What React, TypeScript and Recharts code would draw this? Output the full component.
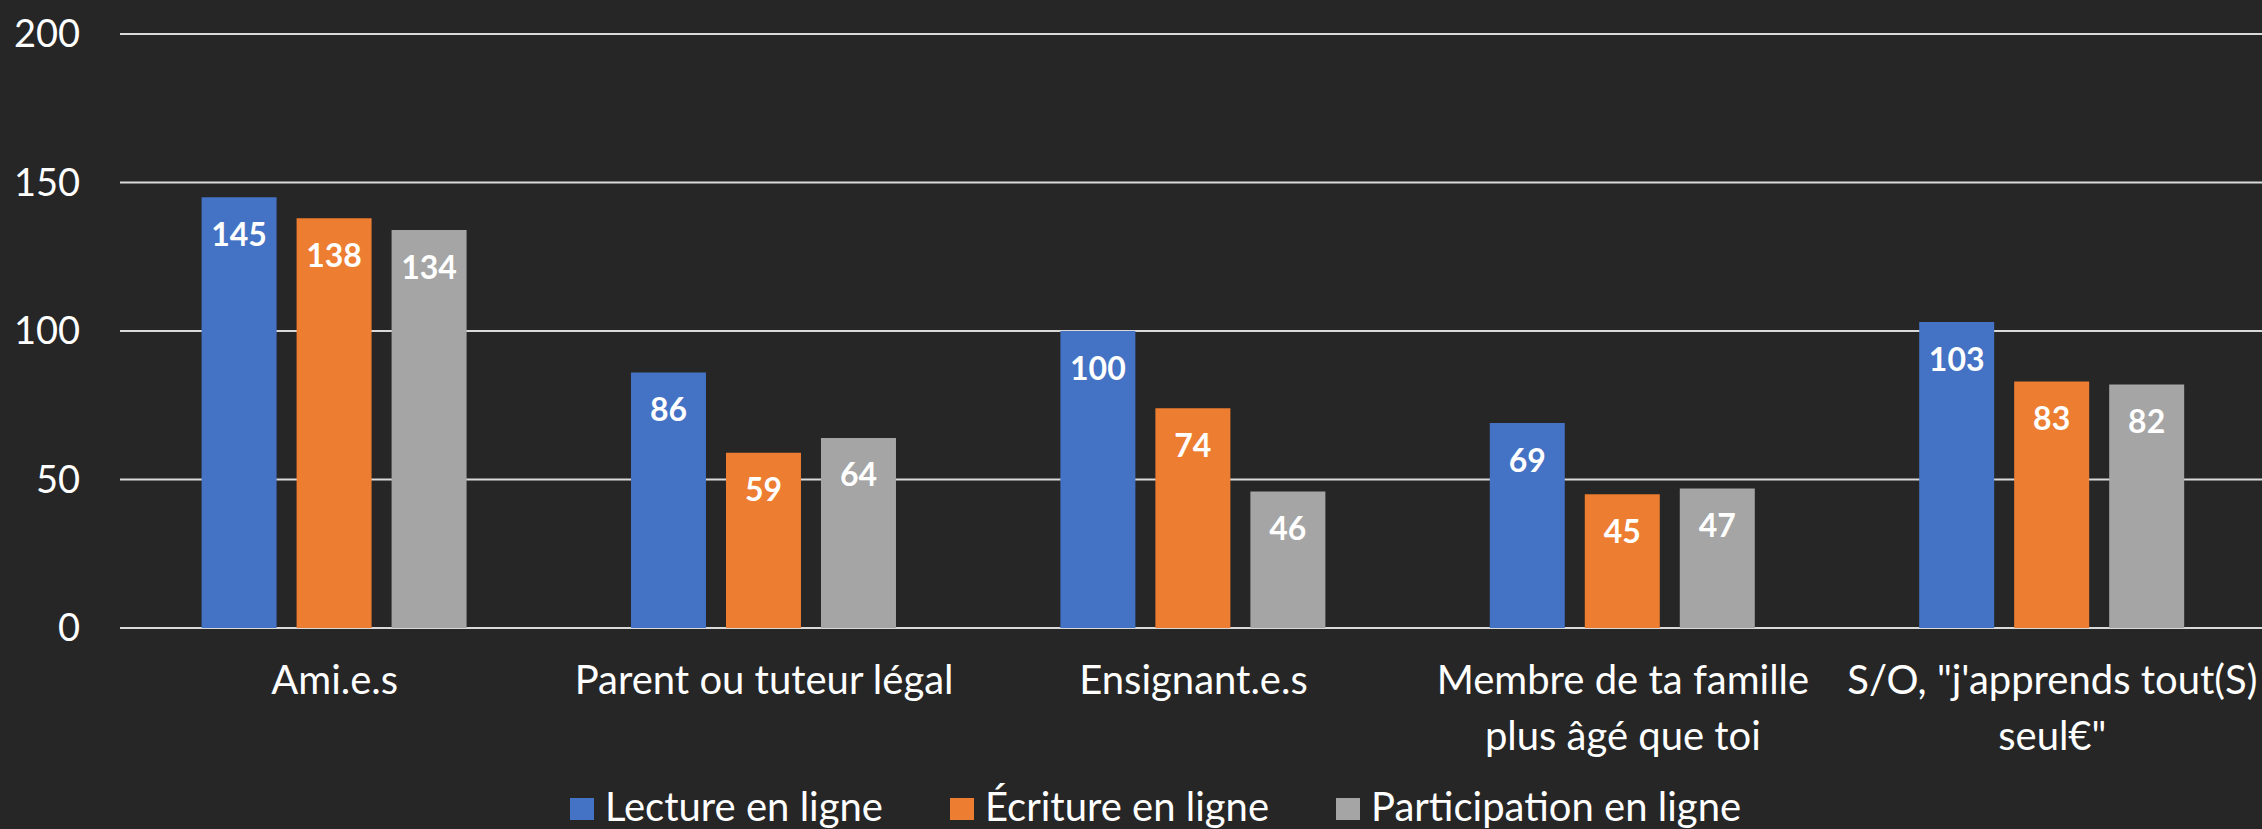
import React from 'react';
import { BarChart, Bar, XAxis, YAxis, CartesianGrid, Legend, LabelList } from 'recharts';

const categories = [
  'Ami.e.s',
  'Parent ou tuteur légal',
  'Ensignant.e.s',
  'Membre de ta famille\nplus âgé que toi',
  'S/O, "j\'apprends tout(S)\nseul€"',
];
const lecture = [145, 86, 100, 69, 103];
const ecriture = [138, 59, 74, 45, 83];
const participation = [134, 64, 46, 47, 82];
const seriesNames = ['Lecture en ligne', 'Écriture en ligne', 'Participation en ligne'];
const seriesKeys = ['lecture', 'ecriture', 'participation'];
const seriesColors = ['#4472C4', '#ED7D31', '#A5A5A5'];
const yTicks = [0, 50, 100, 150, 200];

const data = categories.map((c, i) => ({
  name: c,
  lecture: lecture[i],
  ecriture: ecriture[i],
  participation: participation[i],
}));

const FONT = 'Lato, "Noto Sans", sans-serif';

const XTick = (props: any) => {
  const { x, y, payload } = props;
  const lines = String(payload.value).split('\n');
  return (
    <text x={x} y={y} textAnchor="middle" fill="#FFFFFF" fontSize={40} fontFamily={FONT}>
      {lines.map((l: string, i: number) => (
        <tspan key={i} x={x} y={y + 66 + i * 56}>
          {l}
        </tspan>
      ))}
    </text>
  );
};

const renderBarLabel = (props: any) => {
  const { x, y, width, value } = props;
  return (
    <text
      x={Number(x) + Number(width) / 2}
      y={Number(y) + 36}
      textAnchor="middle"
      dominantBaseline="central"
      fill="#FFFFFF"
      fontSize={32}
      fontWeight="bold"
      fontFamily={FONT}
    >
      {value}
    </text>
  );
};

const renderLegend = (props: any) => {
  const payload = [...(props.payload || [])].sort(
    (a: any, b: any) => seriesNames.indexOf(a.value) - seriesNames.indexOf(b.value)
  );
  return (
    <div
      style={{
        display: 'flex',
        justifyContent: 'center',
        paddingLeft: 44,
        height: 44,
        fontFamily: FONT,
      }}
    >
      {payload.map((p: any, i: number) => (
        <div
          key={i}
          style={{
            display: 'flex',
            alignItems: 'flex-end',
            marginRight: i < payload.length - 1 ? 67 : 0,
            height: 44,
          }}
        >
          <span
            style={{
              display: 'inline-block',
              width: 24,
              height: 22,
              background: p.color,
              marginRight: 11,
              marginBottom: 9,
            }}
          />
          <span
            style={{
              fontSize: 40,
              lineHeight: '40px',
              color: '#FFFFFF',
              whiteSpace: 'nowrap',
              marginBottom: 3,
            }}
          >
            {p.value}
          </span>
        </div>
      ))}
    </div>
  );
};

export default function App() {
  return (
    <div
      style={{
        position: 'absolute',
        left: 0,
        top: 0,
        width: 2262,
        height: 829,
        overflow: 'hidden',
        background: '#262626',
      }}
    >
      <BarChart
        width={2262}
        height={829}
        data={data}
        margin={{ top: 34, right: -5, left: 0, bottom: 0 }}
        barCategoryGap="19%"
        barGap={20}
      >
        <CartesianGrid vertical={false} stroke="#D9D9D9" strokeWidth={2} />
        <XAxis
          dataKey="name"
          axisLine={false}
          tickLine={false}
          tickSize={0}
          tickMargin={0}
          height={157}
          interval={0}
          tick={<XTick />}
        />
        <YAxis
          width={120}
          domain={[0, 200]}
          ticks={yTicks}
          axisLine={false}
          tickLine={false}
          tickSize={0}
          tickMargin={40}
          tick={{ fill: '#FFFFFF', fontSize: 38, fontFamily: FONT }}
        />
        <Legend verticalAlign="bottom" height={44} content={renderLegend} />
        {seriesKeys.map((k, i) => (
          <Bar key={k} dataKey={k} name={seriesNames[i]} fill={seriesColors[i]} isAnimationActive={false}>
            <LabelList dataKey={k} content={renderBarLabel} />
          </Bar>
        ))}
      </BarChart>
    </div>
  );
}
